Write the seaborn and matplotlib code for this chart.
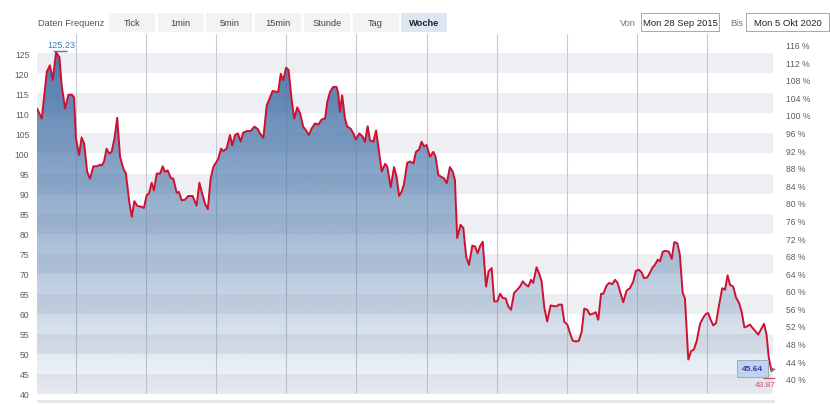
import numpy as np
import matplotlib
matplotlib.use("Agg")
import matplotlib.pyplot as plt
from matplotlib.patches import Rectangle, PathPatch
import seaborn as sns

# Wochenkurse (Position in Wochen seit 28.09.2015, Schlusskurs)
weeks = [0.0, 1.7, 3.5, 4.6, 5.6, 6.8, 8.0, 8.8, 10.0, 11.2, 12.4, 13.2, 13.9, 15.0, 15.9,
         16.8, 17.9, 18.9, 20.1, 21.3, 22.5, 23.1, 23.9, 24.8, 25.7, 26.6, 27.6, 28.6, 29.6,
         30.8, 31.7, 32.9, 33.8, 34.7, 35.8, 37.3, 38.1, 39.1, 39.9, 40.9, 41.7, 42.7, 43.9,
         44.8, 45.6, 46.6, 47.7, 48.6, 49.8, 50.6, 51.6, 52.8, 53.9, 55.5, 56.9, 57.9, 58.9,
         59.9, 60.9, 61.9, 62.9, 63.8, 64.6, 65.6, 66.4, 67.6, 68.8, 69.6, 70.6, 71.6, 72.6,
         73.5, 74.8, 76.2, 77.5, 78.7, 79.5, 80.7, 81.9, 83.1, 84.0, 85.2, 86.0, 86.9, 87.8,
         88.8, 89.7, 90.8, 91.7, 92.8, 93.8, 94.9, 95.9, 96.9, 97.9, 99.1, 100.3, 101.5, 102.7,
         103.5, 104.5, 105.6, 106.8, 107.4, 108.0, 108.8, 109.8, 110.6, 111.8, 112.8, 113.7,
         114.9, 116.1, 116.9, 117.9, 118.7, 119.9, 120.9, 121.7, 122.9, 124.1, 124.9, 126.1,
         127.3, 128.2, 129.1, 130.0, 130.8, 132.0, 133.0, 134.2, 135.1, 136.2, 137.1, 138.0,
         138.9, 140.1, 141.3, 142.1, 143.1, 144.3, 145.1, 146.1, 147.2, 148.2, 149.0, 149.8,
         151.0, 152.0, 153.0, 154.0, 155.2, 156.2, 157.1, 157.9, 158.9, 160.1, 161.0, 162.1,
         163.0, 164.1, 165.1, 166.0, 167.1, 168.0, 169.0, 170.1, 171.2, 172.2, 173.2, 174.2,
         175.2, 176.1, 176.9, 178.1, 179.1, 179.9, 180.9, 181.9, 183.1, 184.3, 185.3, 186.1,
         187.1, 188.0, 189.1, 190.0, 191.0, 192.2, 193.2, 194.2, 195.1, 196.2, 197.1, 198.1,
         199.2, 200.1, 201.1, 201.9, 203.1, 204.0, 205.1, 206.1, 207.0, 208.1, 209.0, 210.2,
         211.4, 212.6, 213.5, 214.6, 215.6, 216.4, 217.6, 218.5, 219.5, 220.3, 221.3, 222.1,
         223.1, 224.1, 225.3, 226.3, 227.2, 228.3, 229.2, 230.2, 231.0, 232.2, 233.2, 234.2,
         235.2, 236.4, 237.5, 238.5, 239.3, 240.2, 241.1, 242.1, 243.1, 244.3, 245.3, 246.2,
         247.1, 248.2, 249.2, 250.3, 251.2, 252.2, 253.2, 254.2, 255.1, 256.2, 257.1, 258.1,
         259.2, 260.1, 260.9, 261.9]

prices = [111.2, 108.7, 120.4, 122.0, 118.3, 125.23, 124.0, 117.0, 111.2, 114.6, 114.7, 114.0,
          103.7, 99.6, 104.0, 102.5, 95.4, 93.7, 96.8, 96.8, 97.2, 97.0, 98.0, 101.2, 100.0,
          100.4, 103.7, 108.9, 99.2, 96.2, 95.0, 87.9, 84.2, 88.1, 86.9, 86.7, 86.4, 89.6,
          90.0, 92.7, 90.8, 95.0, 95.0, 96.8, 95.4, 95.8, 93.9, 93.7, 90.2, 90.4, 88.3, 88.5,
          89.4, 89.4, 87.0, 92.7, 90.0, 87.5, 86.1, 93.7, 96.7, 97.7, 98.6, 101.2, 100.6,
          101.2, 104.6, 102.0, 104.6, 105.0, 103.0, 105.2, 105.6, 105.6, 106.7, 106.1, 105.0,
          103.9, 112.0, 114.0, 115.6, 115.4, 115.4, 119.9, 118.3, 121.4, 120.8, 113.3, 108.7,
          111.5, 110.0, 106.7, 105.8, 104.6, 106.2, 107.5, 107.2, 108.5, 108.7, 112.9, 115.4,
          116.6, 116.6, 115.0, 110.4, 114.5, 108.7, 106.7, 106.2, 105.0, 103.5, 105.0, 104.2,
          102.9, 106.8, 103.3, 102.9, 105.7, 101.7, 95.5, 97.4, 96.7, 91.6, 96.6, 94.2, 89.4,
          90.5, 92.2, 97.7, 98.0, 97.5, 100.4, 101.0, 102.9, 101.8, 102.1, 99.2, 100.4, 99.2,
          94.6, 94.1, 93.8, 92.6, 96.6, 95.5, 93.4, 78.9, 82.2, 81.4, 74.3, 72.2, 77.0, 76.8,
          75.1, 76.8, 78.0, 66.8, 70.6, 71.4, 63.1, 63.1, 65.0, 64.0, 63.8, 61.9, 61.0, 65.2,
          66.0, 66.8, 68.1, 67.3, 66.8, 68.5, 67.7, 71.6, 69.9, 68.1, 61.4, 58.1, 62.1, 61.9,
          61.9, 62.3, 62.3, 58.0, 57.3, 55.2, 53.3, 53.1, 53.3, 55.6, 61.3, 61.0, 59.8, 60.0,
          60.4, 58.5, 65.0, 65.0, 67.1, 67.7, 67.4, 68.5, 67.7, 65.0, 62.9, 65.8, 66.4, 68.1,
          70.7, 71.0, 70.3, 68.9, 69.1, 70.2, 71.6, 72.2, 73.5, 73.1, 75.5, 75.7, 75.5, 73.7,
          77.9, 77.6, 74.7, 65.2, 63.9, 48.6, 50.7, 51.1, 53.2, 57.5, 59.0, 60.0, 60.2, 58.5,
          57.1, 57.7, 61.9, 66.4, 66.0, 69.6, 67.2, 66.8, 64.1, 62.7, 60.6, 56.6, 56.9, 57.3,
          56.5, 55.6, 54.8, 56.1, 57.5, 54.8, 49.0, 45.64]

low_value = 43.87
pct_base = 109.6          # Kurs, der 100 % entspricht

freq_buttons = ["Tick", "1min", "5min", "15min", "Stunde", "Tag", "Woche"]
date_from = "Mon 28 Sep 2015"
date_to = "Mon 5 Okt 2020"

left_ticks = list(range(40, 130, 5))
right_ticks = list(range(40, 117, 4))
grid_weeks = [13.9 + 25 * k for k in range(10)]

W, H = 830, 406
y_lo, y_hi = 40, 129.8
x_lo, x_hi = 0, 262.4

sns.set_theme(style="white")
plt.rcParams['font.family'] = ['Liberation Sans', 'DejaVu Sans']

fig = plt.figure(figsize=(W / 100, H / 100), dpi=100)
ax = fig.add_axes([37 / W, 11 / H, 736 / W, 360 / H])

# graue Baender
for lo in range(40, 125, 10):
    ax.axhspan(lo, lo + 5, color='#eeeff2', lw=0, zorder=0)
for gx in grid_weeks:
    ax.axvline(gx, color='#c5cad1', lw=0.8, zorder=1)

# Flaeche mit Verlauf
poly = ax.fill_between(weeks, prices, y_lo, facecolor='none', edgecolor='none')
clip = PathPatch(poly.get_paths()[0], transform=ax.transData, facecolor='none', edgecolor='none')
ax.add_patch(clip)
grad = np.zeros((256, 1, 4))
grad[:, 0, 0] = 69 / 255
grad[:, 0, 1] = 114 / 255
grad[:, 0, 2] = 167 / 255
grad[:, 0, 3] = np.linspace(0.05, 1.0, 256)
im = ax.imshow(grad, extent=(x_lo, x_hi, y_lo, y_hi), origin='lower', aspect='auto', zorder=2)
im.set_clip_path(clip)

sns.lineplot(x=weeks, y=prices, ax=ax, color='#cf1030', linewidth=1.4, zorder=4)

ax.set_xlim(x_lo, x_hi)
ax.set_ylim(y_lo, y_hi)
ax.set_xticks([])
ax.set_yticks(left_ticks)
ax.tick_params(axis='y', length=0, pad=5.5, labelsize=6.2, labelcolor='#5e5e5e')
for s in ax.spines.values():
    s.set_visible(False)

ax2 = ax.twinx()
ax2.set_ylim(y_lo / pct_base * 100, y_hi / pct_base * 100)
ax2.set_yticks(right_ticks)
ax2.set_yticklabels([f"{t} %" for t in right_ticks])
ax2.tick_params(axis='y', length=0, pad=9.4, labelsize=6.2, labelcolor='#5e5e5e')
for s in ax2.spines.values():
    s.set_visible(False)
ax2.grid(False)

# Hoch-Markierung
i_max = int(np.argmax(prices))
ax.hlines(prices[i_max] + 0.4, weeks[i_max] - 1, weeks[i_max] + 4, color='#3d7fb0', lw=1.0, zorder=5)
ax.annotate(f"{prices[i_max]:.2f}", xy=(weeks[i_max], prices[i_max]), xytext=(5, 8),
            textcoords='offset pixels', ha='center', va='center', fontsize=6.6, color='#3a7db8')

# Tief-Markierung und letzter Kurs
ax.hlines(low_value, weeks[-1] - 3.2, weeks[-1] + 1.2, color='#d04a66', lw=0.8, zorder=5, clip_on=False)
ax.annotate(f"{low_value:.2f}", xy=(weeks[-1], low_value), xytext=(-6, -6),
            textcoords='offset pixels', ha='center', va='center', fontsize=6.0,
            color='#d0506a', annotation_clip=False)
ax.annotate(f"{prices[-1]:.2f}", xy=(weeks[-1], prices[-1]), xytext=(-19, 2.7),
            textcoords='offset pixels', ha='center', va='center', fontsize=6.0,
            fontweight='bold', color='#4a2db0', zorder=6,
            bbox=dict(boxstyle='square,pad=0.6', fc='#bcd5ec', ec='#8fa5ba', lw=0.6))
ax.annotate("\u25B6", xy=(weeks[-1], prices[-1]), xytext=(1.5, 2.7),
            textcoords='offset pixels', ha='center', va='center', fontsize=4.5,
            color='#707070', zorder=7, family=['DejaVu Sans'])


def px(x, y):
    return x / W, 1 - y / H


# Kopfzeile
fig.text(*px(38, 23), "Daten Frequenz", fontsize=6.7, color='#555555', va='center', ha='left')
for i, lab in enumerate(freq_buttons):
    cx = 132 + i * 48.7
    sel = lab == "Woche"
    fig.add_artist(Rectangle(px(cx - 23, 33), 46 / W, 19 / H, transform=fig.transFigure,
                             fc='#dde6f2' if sel else '#f2f3f5', ec='none'))
    fig.text(*px(cx, 23), lab, fontsize=6.7, ha='center', va='center',
             color='#222222' if sel else '#444444', fontweight='bold' if sel else 'normal')

fig.text(*px(620, 23), "Von", fontsize=6.7, color='#777777', va='center', ha='left')
fig.add_artist(Rectangle(px(641, 32), 78 / W, 18 / H, transform=fig.transFigure,
                         fc='white', ec='#a8a8a8', lw=0.7))
fig.text(*px(680, 23), date_from, fontsize=6.8, color='#222222', va='center', ha='center')
fig.text(*px(730, 23), "Bis", fontsize=6.7, color='#777777', va='center', ha='left')
fig.add_artist(Rectangle(px(746, 32), 83 / W, 18 / H, transform=fig.transFigure,
                         fc='white', ec='#a8a8a8', lw=0.7))
fig.text(*px(787.5, 23), date_to, fontsize=6.8, color='#222222', va='center', ha='center')

# Leiste unten
fig.add_artist(Rectangle(px(37, 403.5), 738 / W, 2.5 / H, transform=fig.transFigure,
                         fc='#e3e7ee', ec='none'))

fig.savefig("out.png", dpi=100)
